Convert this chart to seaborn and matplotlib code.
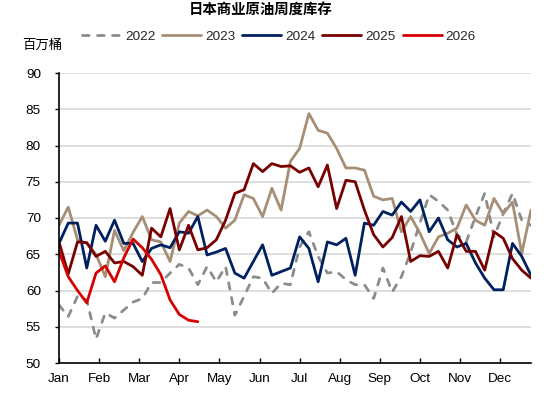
import matplotlib
matplotlib.use("Agg")
import matplotlib.pyplot as plt
import numpy as np
import pandas as pd
import seaborn as sns

# ---------------- data ----------------
months = ["Jan", "Feb", "Mar", "Apr", "May", "Jun", "Jul", "Aug", "Sep", "Oct", "Nov", "Dec"]
years = ["2022", "2023", "2024", "2025", "2026"]

y2022 = [58.0, 56.4, 59.2, 58.7, 53.3, 56.9, 56.2, 57.3, 58.4, 58.9,
         61.1, 61.1, 62.4, 63.6, 63.1, 60.8, 63.3, 61.2, 63.3, 56.6,
         59.2, 61.9, 61.7, 59.6, 61.0, 60.8, 66.0, 68.1, 64.7, 62.4,
         62.6, 61.5, 60.8, 60.8, 58.9, 63.1, 59.8, 61.9, 65.3, 69.3,
         73.2, 72.3, 71.1, 67.7, 66.7, 70.2, 73.4, 67.4, 70.6, 73.4,
         69.7, 69.0]
y2023 = [69.0, 71.5, 67.0, 66.5, 65.0, 61.9, 68.3, 65.5, 68.0, 70.2,
         67.0, 66.7, 64.0, 69.3, 70.9, 70.3, 71.1, 70.2, 68.6, 69.7,
         73.2, 72.7, 70.2, 74.1, 71.1, 77.8, 79.6, 84.4, 82.1, 81.7,
         79.6, 76.9, 76.9, 76.6, 73.0, 72.5, 72.7, 68.1, 70.2, 67.9,
         65.1, 67.4, 67.9, 68.6, 71.8, 69.7, 69.0, 72.7, 70.6, 72.2,
         65.1, 71.1]
y2024 = [66.5, 69.3, 69.3, 63.1, 69.0, 66.8, 69.7, 66.5, 66.5, 64.0,
         65.8, 66.3, 65.9, 68.1, 67.9, 70.2, 64.9, 65.3, 65.8, 62.4,
         61.7, 64.0, 66.3, 62.1, 62.6, 63.1, 67.4, 65.8, 61.2, 66.7,
         66.3, 67.2, 62.1, 69.3, 69.0, 70.9, 70.4, 72.2, 70.9, 72.5,
         68.1, 70.0, 67.0, 66.0, 66.5, 63.8, 61.7, 60.1, 60.1, 66.5,
         64.7, 62.1]
y2025 = [66.7, 62.3, 66.7, 66.6, 64.7, 65.4, 63.8, 64.0, 63.3, 62.1,
         68.6, 67.4, 71.3, 65.6, 69.0, 65.6, 65.9, 67.0, 69.7, 73.4,
         73.9, 77.5, 76.4, 77.5, 77.1, 77.2, 76.3, 76.9, 74.3, 77.3,
         71.3, 75.2, 75.0, 71.1, 67.7, 66.0, 67.3, 70.2, 64.0, 64.8,
         64.7, 65.4, 63.1, 67.7, 65.4, 65.4, 62.8, 68.1, 67.2, 64.4,
         62.8, 61.7]
y2026 = [65.4, 61.9, 60.0, 58.3, 62.4, 63.4, 61.2, 64.5, 67.1, 65.9,
         64.3, 62.2, 58.7, 56.7, 55.9, 55.7]

series = [y2022, y2023, y2024, y2025, y2026]
colors = ["#8C8C8C", "#A68F76", "#002060", "#780000", "#D50000"]

rows = []
for yr, vals in zip(years, series):
    for w, v in enumerate(vals):
        rows.append({"week": w, "value": v, "year": yr})
df = pd.DataFrame(rows)

# ---------------- style ----------------
sns.set_theme(style="white")
plt.rcParams["font.family"] = ["Liberation Sans", "Noto Sans CJK SC", "DejaVu Sans"]

fig = plt.figure(figsize=(5.5, 3.97), dpi=100)
ax = fig.add_axes([59 / 550, 1 - 363 / 397, (531 - 59) / 550, (363 - 73) / 397])

for yr, col in zip(years, colors):
    sub = df[df["year"] == yr]
    kw = dict(color=col, linewidth=2.0, label=yr, solid_joinstyle="round",
              solid_capstyle="round")
    if yr == "2022":
        kw.update(linestyle=(0, (2.4, 3.0)), dash_capstyle="round", dash_joinstyle="round")
    sns.lineplot(data=sub, x="week", y="value", ax=ax, legend=False, **kw)

ax.set_xlim(0, 51)
ax.set_ylim(50, 90)
ax.set_yticks(np.arange(50, 91, 5))
ax.set_xticks([k * 52 / 12 for k in range(12)])
ax.set_xticklabels(months)
ax.set_xlabel("")
ax.set_ylabel("")

ax.yaxis.grid(True, color="#D9D9D9", linewidth=1.2)
ax.xaxis.grid(False)
ax.set_axisbelow(True)
for s in ["top", "right"]:
    ax.spines[s].set_visible(False)
for s in ["left", "bottom"]:
    ax.spines[s].set_color("black")
    ax.spines[s].set_linewidth(1.2)

ax.tick_params(axis="x", direction="in", length=3.5, width=1, color="black",
               pad=7, labelsize=9.7, labelcolor="black")
ax.tick_params(axis="y", direction="out", length=3, width=1, color="black",
               pad=10, labelsize=9.7, labelcolor="black")
ax.tick_params(bottom=True, left=True)

# title & unit
fig.text(260.5 / 550, 1 - 10 / 397, "日本商业原油周度库存", ha="center", va="center",
         fontsize=10.4, fontweight="bold", color="black",
         family=["Noto Sans CJK SC", "DejaVu Sans"])
fig.text(22 / 550, 1 - 45 / 397, "百万桶", ha="left", va="center", fontsize=9.6,
         color="black", family=["Noto Sans CJK SC", "DejaVu Sans"])

handles = ax.get_lines()[:5]
fig.legend(handles, years, loc="center", bbox_to_anchor=(279 / 550, 1 - 37 / 397),
           ncol=5, frameon=False, handlelength=2.9, handletextpad=0.3,
           columnspacing=0.5, fontsize=9.7, borderaxespad=0, borderpad=0)

fig.savefig("out.png", dpi=100)
